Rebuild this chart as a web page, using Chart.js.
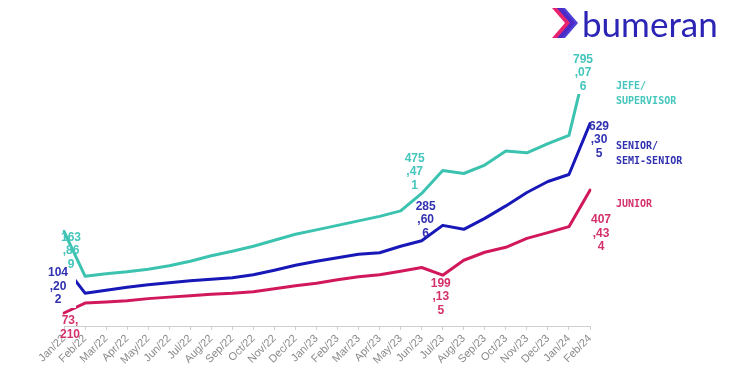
<!DOCTYPE html>
<html>
<head>
<meta charset="utf-8">
<script src="https://cdn.jsdelivr.net/npm/chart.js@4/dist/chart.umd.min.js"></script>
<style>
html, body { margin: 0; padding: 0; background: #fff; }
#wrap { position: relative; width: 730px; height: 378px; }
#wrap canvas { position: absolute; left: 0; top: 0; }
#logo { position: absolute; left: 546px; top: 0; }
</style>
</head>
<body>
<div id="wrap">
  <canvas id="salaries" width="730" height="378"></canvas>
  <svg id="logo" width="184" height="46" viewBox="0 0 184 46">
    <polygon points="6,8 16,8 29,23 16,38 6,38 19,23" fill="#e8246e"/>
    <polygon points="11,8 19,8 32,23 19,38 11,38 24,23" fill="#3a2bd0" opacity="0.9"/>
    <text x="36" y="37" font-family="Lato" font-size="35" fill="#2b24b4">bumeran</text>
  </svg>
</div>
<script>
// months on the x axis
var months = ['Jan/22','Feb/22','Mar/22','Apr/22','May/22','Jun/22','Jul/22','Aug/22','Sep/22','Oct/22','Nov/22','Dec/22',
              'Jan/23','Feb/23','Mar/23','Apr/23','May/23','Jun/23','Jul/23','Aug/23','Sep/23','Oct/23','Nov/23','Dec/23',
              'Jan/24','Feb/24'];

// salary lines
var jefe   = [313100, 181300, 188600, 194500, 201800, 212000, 225200, 241300, 254500, 269100, 286700, 304300, 317400,
              330600, 343800, 357000, 373100, 424300, 491700, 482900, 507800, 548800, 543500, 570700, 595000, 850000];
var senior = [212000, 131500, 140300, 149100, 156400, 162300, 168100, 172500, 176900, 185700, 198900, 213500, 225200,
              235500, 245700, 250100, 269100, 285600, 330600, 318900, 351100, 387700, 427200, 459400, 479900, 629300];
var junior = [73200, 102200, 105200, 109500, 115400, 119800, 124200, 128600, 131500, 135900, 144700, 153500, 160800,
              171000, 179800, 185700, 195900, 206800, 184200, 228100, 251600, 266200, 292500, 309200, 326800, 434000];

// printed value labels and the month they belong to
var jefeNoteAt = [0, 17, 25];
var jefeNotes = ['163,869', '475,471', '795,076'];
var seniorNoteAt = [0, 17, 25];
var seniorNotes = ['104,202', '285,606', '629,305'];
var juniorNoteAt = [0, 18, 25];
var juniorNotes = ['73,210', '199,135', '407,434'];

var seriesNames = [['JEFE/', 'SUPERVISOR'], ['SENIOR/', 'SEMI-SENIOR'], ['JUNIOR']];

var lineColors = ['#3cc3b0', '#1818b8', '#d2185c'];
var textColors = ['#45c6bc', '#3030b0', '#d4306c'];

var notePlugin = {
    id: 'notes',
    afterDatasetsDraw: function(chart) {
        var ctx = chart.ctx;
        var noteSets = [
            {ds: 0, at: jefeNoteAt, texts: jefeNotes, off: [[7, 6], [-7, -35], [-7, 11]]},
            {ds: 1, at: seniorNoteAt, texts: seniorNotes, off: [[-6, 7], [4, -34], [9, 3]]},
            {ds: 2, at: juniorNoteAt, texts: juniorNotes, off: [[6, 8], [-2, 8], [11, 30]]}
        ];
        ctx.save();
        // white patches behind some labels, as in the picture
        ctx.fillStyle = '#fff';
        var top = chart.getDatasetMeta(0).data[25];
        ctx.fillRect(top.x - 18, 40, 30, 54);
        var first = chart.getDatasetMeta(1).data[0];
        ctx.fillRect(first.x - 20, 262, 32, 46);

        ctx.font = 'bold 12px "Liberation Sans", Arial, sans-serif';
        ctx.textAlign = 'center';
        ctx.textBaseline = 'middle';
        noteSets.forEach(function(set) {
            var meta = chart.getDatasetMeta(set.ds);
            ctx.fillStyle = textColors[set.ds];
            set.at.forEach(function(idx, n) {
                var pt = meta.data[idx];
                var txt = set.texts[n];
                var parts = [];
                for (var i = 0; i < txt.length; i += 3) parts.push(txt.slice(i, i + 3));
                parts.forEach(function(p, j) {
                    ctx.fillText(p, pt.x + set.off[n][0], pt.y + set.off[n][1] + j * 13.5);
                });
            });
        });

        // series names on the right
        ctx.font = 'bold 10px "DejaVu Sans Mono", monospace';
        ctx.textAlign = 'left';
        var nameY = [86, 146, 204];
        seriesNames.forEach(function(lines, s) {
            ctx.fillStyle = textColors[s];
            lines.forEach(function(l, j) {
                ctx.fillText(l, 616, nameY[s] + j * 15.5);
            });
        });
        ctx.restore();
    }
};

var el = document.getElementById('salaries');
var chart = new Chart(el, {
    type: 'line',
    data: {
        labels: months,
        datasets: [
            { data: jefe, borderColor: lineColors[0] },
            { data: senior, borderColor: lineColors[1] },
            { data: junior, borderColor: lineColors[2] }
        ]
    },
    options: {
        responsive: false,
        animation: false,
        layout: { padding: { left: 64, right: 140, top: 40, bottom: 4 } },
        elements: {
            line: { borderWidth: 3, tension: 0, borderCapStyle: 'round', borderJoinStyle: 'round' },
            point: { radius: 0 }
        },
        plugins: {
            legend: { display: false },
            tooltip: { enabled: false },
            title: { display: false }
        },
        scales: {
            x: {
                afterFit: function(scale) { scale.height = 48; },
                border: { color: '#d0d0d0', width: 1 },
                grid: { drawOnChartArea: false, tickLength: 4, color: '#d0d0d0' },
                ticks: {
                    autoSkip: false,
                    minRotation: 45,
                    maxRotation: 45,
                    padding: 2,
                    color: '#8a8a8a',
                    font: { family: '"Liberation Sans", Arial, sans-serif', size: 11 }
                }
            },
            y: { display: false, min: 35000, max: 875000 }
        }
    },
    plugins: [notePlugin]
});
</script>
</body>
</html>
